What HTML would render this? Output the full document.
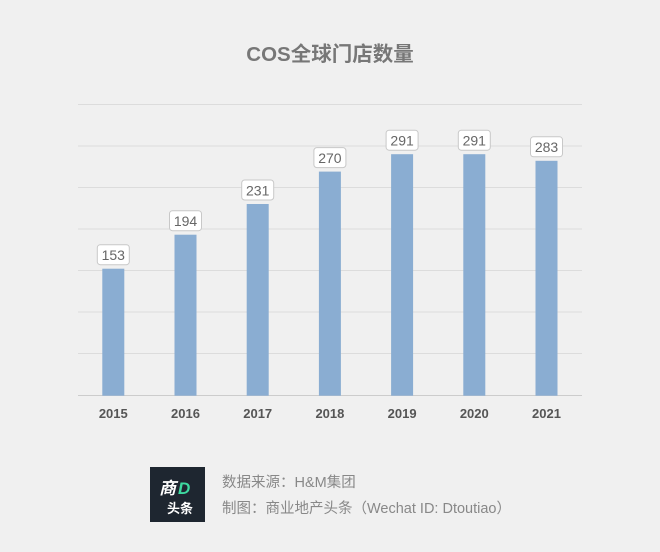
<!DOCTYPE html>
<html><head><meta charset="utf-8"><style>
html,body{margin:0;padding:0;background:#f0f0f0;}
</style></head><body>
<svg width="660" height="552" viewBox="0 0 660 552" xmlns="http://www.w3.org/2000/svg" style="display:block;font-family:'Liberation Sans','Noto Sans CJK SC',sans-serif">
<rect width="660" height="552" fill="#f0f0f0"/>
<text x="330" y="61" text-anchor="middle" font-size="20.5" font-weight="bold" fill="#777">COS全球门店数量</text>
<g stroke="#dcdcdc" stroke-width="1">
<line x1="78" x2="582" y1="104.5" y2="104.5"/>
<line x1="78" x2="582" y1="146" y2="146"/>
<line x1="78" x2="582" y1="187.5" y2="187.5"/>
<line x1="78" x2="582" y1="229" y2="229"/>
<line x1="78" x2="582" y1="270.5" y2="270.5"/>
<line x1="78" x2="582" y1="312" y2="312"/>
<line x1="78" x2="582" y1="353.5" y2="353.5"/>
</g>
<line x1="78" x2="582" y1="395.5" y2="395.5" stroke="#ccc" stroke-width="1"/>
<g fill="#8aadd2">
<rect x="102.3" y="268.7" width="22" height="127"/>
<rect x="174.5" y="234.7" width="22" height="161"/>
<rect x="246.7" y="204" width="22" height="191.7"/>
<rect x="318.9" y="171.6" width="22" height="224.1"/>
<rect x="391.1" y="154.2" width="22" height="241.5"/>
<rect x="463.3" y="154.2" width="22" height="241.5"/>
<rect x="535.5" y="160.8" width="22" height="234.9"/>
</g>
<g fill="#fff" stroke="#c8c8c8" stroke-width="1">
<rect x="97.3" y="244.7" width="32" height="20" rx="3"/>
<rect x="169.5" y="210.7" width="32" height="20" rx="3"/>
<rect x="241.7" y="180" width="32" height="20" rx="3"/>
<rect x="313.9" y="147.6" width="32" height="20" rx="3"/>
<rect x="386.1" y="130.2" width="32" height="20" rx="3"/>
<rect x="458.3" y="130.2" width="32" height="20" rx="3"/>
<rect x="530.5" y="136.8" width="32" height="20" rx="3"/>
</g>
<g font-size="14" fill="#666" text-anchor="middle">
<text x="113.3" y="260">153</text>
<text x="185.5" y="226">194</text>
<text x="257.7" y="195.3">231</text>
<text x="329.9" y="162.9">270</text>
<text x="402.1" y="145.5">291</text>
<text x="474.3" y="145.5">291</text>
<text x="546.5" y="152.1">283</text>
</g>
<g font-size="13" font-weight="bold" fill="#555" text-anchor="middle">
<text x="113.3" y="418">2015</text>
<text x="185.5" y="418">2016</text>
<text x="257.7" y="418">2017</text>
<text x="329.9" y="418">2018</text>
<text x="402.1" y="418">2019</text>
<text x="474.3" y="418">2020</text>
<text x="546.5" y="418">2021</text>
</g>
<rect x="150" y="467" width="55" height="55" fill="#1e2630"/>
<text x="159" y="494" font-size="17" font-weight="bold" font-style="italic" fill="#fff">商</text>
<text x="178" y="494" font-size="17" font-weight="bold" font-style="italic" fill="#3ed9a0">D</text>
<text x="167" y="513" font-size="13" font-weight="bold" fill="#fff">头条</text>
<text x="222" y="487" font-size="14.5" fill="#888">数据来源：H&amp;M集团</text>
<text x="222" y="513" font-size="14.5" fill="#888">制图：商业地产头条（Wechat ID: Dtoutiao）</text>
</svg>
</body></html>
